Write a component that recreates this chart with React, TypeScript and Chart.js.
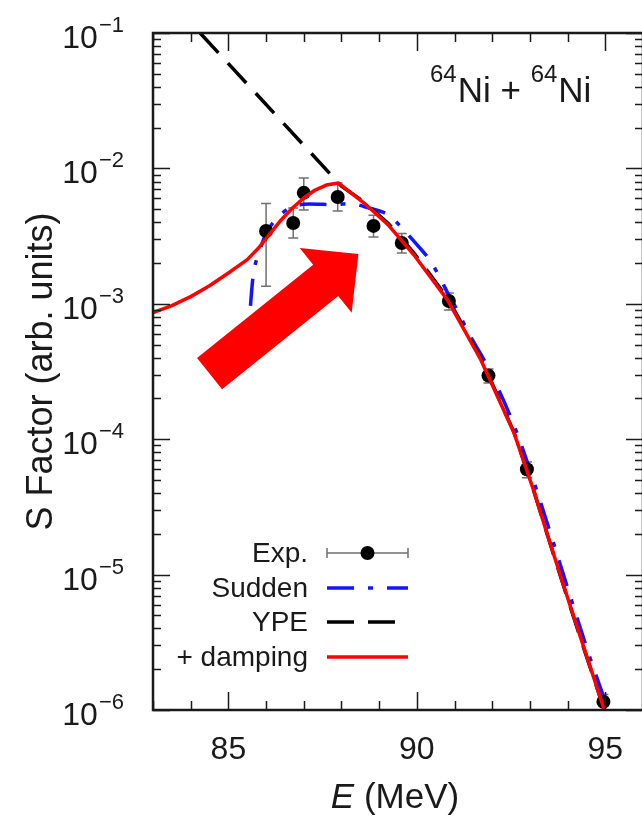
import React, { useEffect, useRef } from "react";
import { Chart, registerables } from "chart.js";

Chart.register(...registerables);

// Measured S factor (arb. units) with error bars
const energyExp = [86.0, 86.72, 87.0, 87.9, 88.85, 89.6, 90.85, 91.9, 92.92, 94.95];
const sExp = [3.45e-3, 3.95e-3, 6.6e-3, 6.15e-3, 3.76e-3, 2.81e-3, 1.05e-3, 2.95e-4, 6.0e-5, 1.15e-6];
const sExpLow = [1.35e-3, 3.06e-3, 4.93e-3, 4.84e-3, 3.11e-3, 2.37e-3, 9.0e-4, 2.6e-4, 5.2e-5, 1.0e-6];
const sExpHigh = [5.5e-3, 5.1e-3, 8.5e-3, 7.8e-3, 4.5e-3, 3.3e-3, 1.2e-3, 3.3e-4, 6.8e-5, 1.3e-6];

// Sudden approximation
const energySudden = [85.45, 85.57, 85.65, 85.84, 86.0, 86.26, 86.63, 87.14, 87.85, 88.2, 88.73, 89.26, 89.6, 89.92, 90.37, 90.59, 90.82, 91.12, 91.33, 91.86, 92.58, 93.11, 93.6, 94.1, 94.6, 95.08];
const sSudden = [3.5e-4, 8.5e-4, 1.55e-3, 2.5e-3, 3.3e-3, 4.2e-3, 5.1e-3, 5.45e-3, 5.4e-3, 5.5e-3, 5.1e-3, 4.5e-3, 3.65e-3, 2.9e-3, 2.05e-3, 1.6e-3, 1.2e-3, 8.5e-4, 6.4e-4, 3.5e-4, 1.26e-4, 4.8e-5, 1.8e-5, 6.5e-6, 2.4e-6, 1.0e-6];

// YPE
const energyYPE = [84.25, 88.0, 88.6, 89.25, 89.92, 90.82, 91.7, 92.58, 93.11, 93.48, 94.01, 94.43, 94.95, 95.05];
const sYPE = [0.1, 7.4e-3, 5.65e-3, 3.9e-3, 2.38e-3, 1.1e-3, 3.95e-4, 1.12e-4, 4.1e-5, 1.9e-5, 6.5e-6, 2.85e-6, 1.05e-6, 8.5e-7];

// YPE + damping
const energyDamping = [83.0, 83.5, 84.0, 84.5, 85.0, 85.5, 85.8, 86.1, 86.4, 86.7, 87.0, 87.3, 87.6, 87.92, 88.6, 89.25, 89.92, 90.82, 91.7, 92.58, 93.11, 93.48, 94.01, 94.43, 94.95, 95.05];
const sDamping = [8.6e-4, 9.7e-4, 1.13e-3, 1.36e-3, 1.69e-3, 2.12e-3, 2.58e-3, 3.28e-3, 4.16e-3, 5.1e-3, 6.04e-3, 6.92e-3, 7.53e-3, 7.8e-3, 5.55e-3, 3.8e-3, 2.3e-3, 1.06e-3, 3.85e-4, 1.11e-4, 4.1e-5, 1.9e-5, 6.6e-6, 2.9e-6, 1.05e-6, 8.5e-7];

// Axes
const xMin = 83;
const xMax = 96;
const xLabelTicks = [85, 90, 95];
const xTickLabels = ["85", "90", "95"];
const yDecades = [-6, -5, -4, -3, -2, -1];

// Arrow pointing at the peak region (tail, tip) in data units
const arrowE = [84.5, 88.45];
const arrowS = [3.05e-4, 2.33e-3];

const legendLabels = ["Exp.", "Sudden", "YPE", "+ damping"];

const FONT = '"Liberation Sans", Arial, Helvetica, sans-serif';
const BLUE = "#1414ff";
const RED = "#ff0000";
const INK = "#1a1a1a";
const SUDDEN_DASH = [27, 14, 5, 14];
const YPE_DASH = [27, 14];
// the frame runs a little past the visible page on the right
const CANVAS_W = 650;
const CANVAS_H = 820;

const toPoints = (xs: number[], ys: number[]) => xs.map((x, i) => ({ x, y: ys[i] }));

const decorations = {
  id: "decorations",
  beforeDatasetsDraw(chart: any) {
    const { ctx, chartArea } = chart;
    const xs = chart.scales.x;
    const ys = chart.scales.y;
    ctx.save();
    ctx.beginPath();
    ctx.rect(chartArea.left, chartArea.top, chartArea.right - chartArea.left, chartArea.bottom - chartArea.top);
    ctx.clip();
    ctx.strokeStyle = "#707070";
    ctx.lineWidth = 1.5;
    energyExp.forEach((e, i) => {
      const x = xs.getPixelForValue(e);
      const y0 = ys.getPixelForValue(sExpLow[i]);
      const y1 = ys.getPixelForValue(sExpHigh[i]);
      ctx.beginPath();
      ctx.moveTo(x, y0);
      ctx.lineTo(x, y1);
      ctx.moveTo(x - 5, y0);
      ctx.lineTo(x + 5, y0);
      ctx.moveTo(x - 5, y1);
      ctx.lineTo(x + 5, y1);
      ctx.stroke();
    });
    ctx.restore();
  },
  afterDraw(chart: any) {
    const { ctx, chartArea } = chart;
    const xs = chart.scales.x;
    const ys = chart.scales.y;
    const { left, right, top, bottom } = chartArea;
    ctx.save();

    // arrow
    const tx = xs.getPixelForValue(arrowE[0]);
    const ty = ys.getPixelForValue(arrowS[0]);
    const hx = xs.getPixelForValue(arrowE[1]);
    const hy = ys.getPixelForValue(arrowS[1]);
    const len = Math.hypot(hx - tx, hy - ty);
    const ux = (hx - tx) / len;
    const uy = (hy - ty) / len;
    const nx = -uy;
    const ny = ux;
    const shaftHalf = 20;
    const headHalf = 41.5;
    const headLen = 42;
    const bx = hx - ux * headLen;
    const by = hy - uy * headLen;
    ctx.fillStyle = RED;
    ctx.beginPath();
    ctx.moveTo(tx + nx * shaftHalf, ty + ny * shaftHalf);
    ctx.lineTo(bx + nx * shaftHalf, by + ny * shaftHalf);
    ctx.lineTo(bx + nx * headHalf, by + ny * headHalf);
    ctx.lineTo(hx, hy);
    ctx.lineTo(bx - nx * headHalf, by - ny * headHalf);
    ctx.lineTo(bx - nx * shaftHalf, by - ny * shaftHalf);
    ctx.lineTo(tx - nx * shaftHalf, ty - ny * shaftHalf);
    ctx.closePath();
    ctx.fill();

    // ticks
    ctx.strokeStyle = INK;
    ctx.lineWidth = 1.5;
    ctx.beginPath();
    for (let e = Math.ceil(xMin); e <= xMax; e++) {
      const x = Math.round(xs.getPixelForValue(e)) + 0.5;
      const l = e % 5 === 0 ? 18 : 9;
      ctx.moveTo(x, bottom);
      ctx.lineTo(x, bottom - l);
      ctx.moveTo(x, top);
      ctx.lineTo(x, top + l);
    }
    yDecades.forEach((d) => {
      for (let m = 1; m <= 9; m++) {
        const v = m * Math.pow(10, d);
        if (v > 0.1 * 1.0001) continue;
        const y = Math.round(ys.getPixelForValue(v)) + 0.5;
        const l = m === 1 ? 17 : 8;
        ctx.moveTo(left, y);
        ctx.lineTo(left + l, y);
        ctx.moveTo(right, y);
        ctx.lineTo(right - l, y);
      }
    });
    ctx.stroke();

    // frame
    ctx.lineWidth = 2.5;
    ctx.strokeRect(left, top, right - left, bottom - top);

    // y tick labels 10^k
    ctx.fillStyle = INK;
    ctx.textBaseline = "alphabetic";
    ctx.textAlign = "left";
    yDecades.forEach((d) => {
      const y = ys.getPixelForValue(Math.pow(10, d));
      const sup = "\u2212" + Math.abs(d);
      ctx.font = `22px ${FONT}`;
      const ws = ctx.measureText(sup).width;
      ctx.font = `32px ${FONT}`;
      const wt = ctx.measureText("10").width;
      const supX = 124 - ws;
      ctx.fillText("10", supX - 1 - wt, y + 15);
      ctx.font = `22px ${FONT}`;
      ctx.fillText(sup, supX, y - 1);
    });

    // x tick labels
    ctx.font = `32px ${FONT}`;
    ctx.textAlign = "center";
    xLabelTicks.forEach((v, i) => {
      ctx.fillText(xTickLabels[i], xs.getPixelForValue(v), bottom + 49);
    });

    // x title: E (MeV)
    ctx.textAlign = "left";
    ctx.font = `italic 35px ${FONT}`;
    const wE = ctx.measureText("E").width;
    ctx.font = `35px ${FONT}`;
    const wRest = ctx.measureText(" (MeV)").width;
    const x0 = 395 - (wE + wRest) / 2;
    ctx.font = `italic 35px ${FONT}`;
    ctx.fillText("E", x0, 808);
    ctx.font = `35px ${FONT}`;
    ctx.fillText(" (MeV)", x0 + wE, 808);

    // y title
    ctx.save();
    ctx.translate(42, (top + bottom) / 2);
    ctx.rotate(-Math.PI / 2);
    ctx.textAlign = "center";
    ctx.textBaseline = "middle";
    ctx.font = `36px ${FONT}`;
    ctx.fillText("S Factor (arb. units)", 0, 0);
    ctx.restore();

    // reaction label  64Ni + 64Ni
    ctx.textAlign = "left";
    ctx.textBaseline = "alphabetic";
    let cx = 430;
    const base = 102;
    const parts: [string, boolean][] = [["64", true], ["Ni + ", false], ["64", true], ["Ni", false]];
    parts.forEach(([t, sup]) => {
      ctx.font = sup ? `24px ${FONT}` : `35px ${FONT}`;
      ctx.fillText(t, cx, sup ? base - 20 : base);
      cx += ctx.measureText(t).width + (sup ? 1 : 0);
    });

    // legend
    const legendTextRight = 308;
    const s0 = 327;
    const s1 = 408;
    const rowY = [553, 588, 622, 657];
    ctx.font = `28px ${FONT}`;
    ctx.textAlign = "right";
    ctx.textBaseline = "middle";
    legendLabels.forEach((lab, i) => {
      ctx.fillStyle = INK;
      ctx.fillText(lab, legendTextRight, rowY[i] + 1);
    });
    // Exp. sample
    const y = rowY[0];
    ctx.strokeStyle = "#707070";
    ctx.lineWidth = 1.5;
    ctx.beginPath();
    ctx.moveTo(s0, y);
    ctx.lineTo(s1, y);
    ctx.moveTo(s0, y - 5);
    ctx.lineTo(s0, y + 5);
    ctx.moveTo(s1, y - 5);
    ctx.lineTo(s1, y + 5);
    ctx.stroke();
    ctx.fillStyle = "#000";
    ctx.beginPath();
    ctx.arc((s0 + s1) / 2, y, 7, 0, Math.PI * 2);
    ctx.fill();
    // line samples
    const samples: [string, number[], number][] = [
      [BLUE, SUDDEN_DASH, rowY[1]],
      ["#000", YPE_DASH, rowY[2]],
      [RED, [], rowY[3]],
    ];
    samples.forEach(([col, dash, yy]) => {
      ctx.strokeStyle = col;
      ctx.lineWidth = 3.5;
      ctx.setLineDash(dash);
      ctx.beginPath();
      ctx.moveTo(s0, yy);
      ctx.lineTo(s1, yy);
      ctx.stroke();
    });
    ctx.setLineDash([]);
    ctx.restore();
  },
};

export default function App() {
  const ref = useRef<HTMLCanvasElement>(null);

  useEffect(() => {
    if (!ref.current) return;
    const chart = new Chart(ref.current, {
      type: "scatter",
      data: {
        datasets: [
          {
            label: "+ damping",
            data: toPoints(energyDamping, sDamping),
            showLine: true,
            borderColor: RED,
            borderWidth: 3.5,
            pointRadius: 0,
            tension: 0,
            borderJoinStyle: "round",
            order: 0,
          },
          {
            label: "Exp.",
            data: toPoints(energyExp, sExp),
            showLine: false,
            pointRadius: 7,
            pointBackgroundColor: "#000",
            pointBorderWidth: 0,
            order: 1,
          },
          {
            label: "YPE",
            data: toPoints(energyYPE, sYPE),
            showLine: true,
            borderColor: "#000",
            borderWidth: 3.5,
            borderDash: YPE_DASH,
            pointRadius: 0,
            tension: 0,
            order: 2,
          },
          {
            label: "Sudden",
            data: toPoints(energySudden, sSudden),
            showLine: true,
            borderColor: BLUE,
            borderWidth: 3.5,
            borderDash: SUDDEN_DASH,
            pointRadius: 0,
            cubicInterpolationMode: "monotone",
            order: 3,
          },
        ],
      },
      options: {
        animation: false,
        responsive: false,
        devicePixelRatio: 1,
        layout: { padding: { left: 153, right: 3, top: 33, bottom: 110 } },
        scales: {
          x: { type: "linear", min: xMin, max: xMax, display: false },
          y: { type: "logarithmic", min: 1e-6, max: 1e-1, display: false },
        },
        plugins: {
          legend: { display: false },
          tooltip: { enabled: false },
        },
        events: [],
      },
      plugins: [decorations],
    });
    return () => chart.destroy();
  }, []);

  return (
    <div
      style={{
        position: "fixed",
        left: 0,
        top: 0,
        width: 642,
        height: 820,
        overflow: "hidden",
        background: "#fff",
      }}
    >
      <canvas
        ref={ref}
        width={CANVAS_W}
        height={CANVAS_H}
        style={{ display: "block", width: CANVAS_W, height: CANVAS_H }}
      />
    </div>
  );
}
